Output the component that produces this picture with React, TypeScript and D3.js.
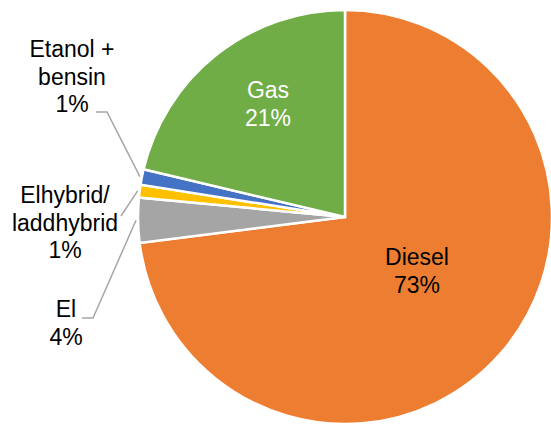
import React from "react";
import * as d3 from "d3";

const categories = ["Diesel", "El", "Elhybrid/laddhybrid", "Etanol + bensin", "Gas"];
const values = [73.0, 3.5, 1.0, 1.2, 21.3];
const labelLines = [["Diesel", "73%"], ["El", "4%"], ["Elhybrid/", "laddhybrid", "1%"], ["Etanol +", "bensin", "1%"], ["Gas", "21%"]];
const colors = ["#ED7D31", "#A5A5A5", "#FFC000", "#4472C4", "#70AD47"];

const W = 551, H = 425;
const cx = 345, cy = 217, R = 207;
const FONT = "'Liberation Sans', Arial, sans-serif";
const FS = 23;
const LH = 27.5;

// label layout: [x center, first baseline, leader polyline start (x,y), elbow (x,y)] ; null for inside labels
const outside: Record<number, { x: number; y: number; sx: number; sy: number; ex: number; ey: number }> = {
  1: { x: 66, y: 317, sx: 82, sy: 318, ex: 93, ey: 318 },
  2: { x: 65, y: 203, sx: 121, sy: 216, ex: 121, ey: 216 },
  3: { x: 72, y: 57, sx: 96, sy: 112, ex: 107, ey: 112 },
};
const inside: Record<number, { x: number; y: number; color: string }> = {
  0: { x: 417, y: 265, color: "#000" },
  4: { x: 268, y: 98, color: "#fff" },
};

export default function App() {
  const pie = d3.pie<number>().sort(null).value((d) => d)(values);
  const arc = d3.arc<d3.PieArcDatum<number>>().innerRadius(0).outerRadius(R);
  const edgeArc = d3.arc<d3.PieArcDatum<number>>().innerRadius(R + 2).outerRadius(R + 2);
  return (
    <svg width={W} height={H} style={{ position: "absolute", left: 0, top: 0 }}>
      <rect width={W} height={H} fill="#fff" />
      <g transform={`translate(${cx},${cy})`}>
        {pie.map((p, i) => (
          <path key={categories[i]} d={arc(p) || ""} fill={colors[i]} stroke="#fff" strokeWidth={2.5} strokeLinejoin="miter" />
        ))}
      </g>
      {pie.map((p, i) => {
        const o = outside[i];
        if (!o) return null;
        const [px, py] = edgeArc.centroid(p);
        return (
          <polyline
            key={"l" + i}
            points={`${o.sx},${o.sy} ${o.ex},${o.ey} ${px + cx},${py + cy}`}
            fill="none"
            stroke="#A6A6A6"
            strokeWidth={1.5}
          />
        );
      })}
      {labelLines.map((lines, i) => {
        const pos = outside[i] ? { x: outside[i].x, y: outside[i].y, color: "#000" } : inside[i];
        return (
          <text key={"t" + i} x={pos.x} y={pos.y} fill={pos.color} fontFamily={FONT} fontSize={FS} textAnchor="middle">
            {lines.map((ln, j) => (
              <tspan key={j} x={pos.x} y={pos.y + j * LH}>
                {ln}
              </tspan>
            ))}
          </text>
        );
      })}
    </svg>
  );
}
